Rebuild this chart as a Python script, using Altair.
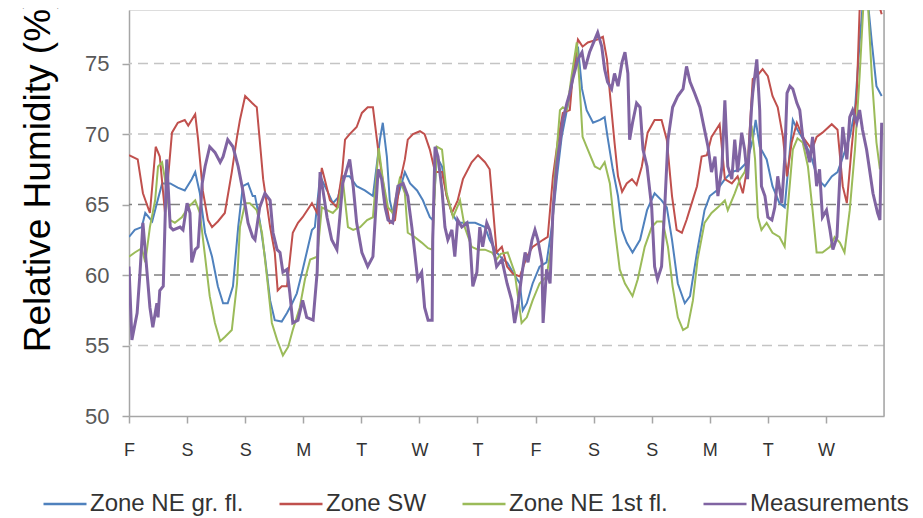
import json
import altair as alt
import pandas as pd

FONT = "Liberation Sans, Arial, sans-serif"

day_labels = ["F", "S", "S", "M", "T", "W", "T", "F", "S", "S", "M", "T", "W"]
series_names = ["Zone NE gr. fl.", "Zone SW", "Zone NE 1st fl.", "Measurements"]
series_colors = ["#4F81BD", "#C0504D", "#9BBB59", "#8064A2"]
y_ticks = [50, 55, 60, 65, 70, 75]
grid_dark = [60, 65]
grid_light = [55, 70, 75]

# (day, relative humidity %)
ne_gr = [(0.00,62.7),(0.10,63.2),(0.22,63.4),(0.28,64.4),(0.40,63.8),(0.48,65.1),(0.57,66.5),(0.71,66.5),(0.84,66.2),(0.96,66.0),(1.08,66.8),(1.14,67.3),(1.22,65.8),(1.31,63.0),(1.43,61.3),(1.53,59.2),(1.62,58.0),(1.70,58.0),(1.79,59.2),(1.88,63.4),(1.96,66.3),(2.05,66.5),(2.13,65.6),(2.17,65.6),(2.25,63.9),(2.34,61.3),(2.43,58.2),(2.51,56.8),(2.63,56.7),(2.72,57.3),(2.81,58.0),(2.89,58.7),(2.98,60.2),(3.06,61.6),(3.15,63.2),(3.20,63.4),(3.29,67.0),(3.41,66.0),(3.51,65.1),(3.60,65.5),(3.68,67.0),(3.80,67.0),(3.92,66.3),(4.06,66.0),(4.20,65.6),(4.32,69.6),(4.37,70.8),(4.44,68.4),(4.49,65.3),(4.54,64.4),(4.63,65.6),(4.75,67.3),(4.84,66.5),(4.96,66.0),(5.06,65.3),(5.18,64.1),(5.23,63.9),(5.30,68.4),(5.39,67.7),(5.47,65.6),(5.56,64.4),(5.66,63.7),(5.78,63.7),(5.96,63.7),(6.13,63.4),(6.21,62.5),(6.33,61.6),(6.44,61.1),(6.51,60.9),(6.61,60.2),(6.73,59.4),(6.78,57.5),(6.85,58.0),(6.95,59.4),(7.07,60.6),(7.19,60.9),(7.28,63.4),(7.37,67.0),(7.45,69.8),(7.54,71.7),(7.62,73.4),(7.73,76.2),(7.80,73.2),(7.88,71.7),(7.99,70.8),(8.11,71.0),(8.19,71.2),(8.24,69.8),(8.33,67.5),(8.42,65.6),(8.49,63.2),(8.57,62.3),(8.67,61.6),(8.80,62.5),(8.92,64.6),(9.05,65.8),(9.17,65.3),(9.26,64.8),(9.35,62.5),(9.45,59.4),(9.57,58.0),(9.66,58.5),(9.78,61.6),(9.91,64.6),(10.00,65.6),(10.12,66.0),(10.26,66.8),(10.38,67.3),(10.52,67.5),(10.64,68.0),(10.74,69.6),(10.79,71.0),(10.86,69.1),(10.98,68.2),(11.08,66.3),(11.20,65.1),(11.29,64.8),(11.38,68.9),(11.43,71.0),(11.51,70.3),(11.64,69.4),(11.76,68.2),(11.86,66.8),(11.98,66.3),(12.10,67.0),(12.20,67.3),(12.32,68.7),(12.41,69.8),(12.50,71.7),(12.58,76.5),(12.65,80.0),(12.72,79.5),(12.79,76.5),(12.87,73.4),(12.96,72.7)]

sw = [(0.00,68.5),(0.15,68.2),(0.24,65.8),(0.36,64.4),(0.46,69.1),(0.53,68.4),(0.62,64.4),(0.74,70.1),(0.84,70.8),(0.96,71.0),(1.02,70.6),(1.14,71.4),(1.19,69.6),(1.27,66.0),(1.36,63.9),(1.43,63.4),(1.53,63.8),(1.65,64.4),(1.77,67.3),(1.86,69.8),(1.91,71.0),(2.00,72.7),(2.12,72.2),(2.20,71.9),(2.25,69.6),(2.31,66.8),(2.43,63.4),(2.51,61.6),(2.56,58.9),(2.63,59.2),(2.72,59.2),(2.77,61.1),(2.82,63.0),(2.91,63.7),(2.99,64.1),(3.15,65.1),(3.24,64.4),(3.32,67.6),(3.37,66.8),(3.46,65.3),(3.58,64.8),(3.67,67.3),(3.72,69.6),(3.80,70.0),(3.92,70.5),(4.01,71.5),(4.11,71.9),(4.20,71.9),(4.29,68.9),(4.41,65.6),(4.49,63.7),(4.58,63.9),(4.66,66.5),(4.75,68.2),(4.80,69.6),(4.89,70.0),(5.01,70.2),(5.09,70.0),(5.18,68.9),(5.27,67.3),(5.39,67.3),(5.47,65.6),(5.56,64.4),(5.66,65.3),(5.75,66.8),(5.90,68.0),(6.01,68.5),(6.13,68.0),(6.21,67.5),(6.27,64.6),(6.33,61.6),(6.42,62.0),(6.51,60.6),(6.61,60.1),(6.73,59.9),(6.85,61.3),(6.95,62.0),(7.13,62.5),(7.21,62.7),(7.30,67.0),(7.38,69.4),(7.47,71.5),(7.59,71.7),(7.64,74.1),(7.73,76.7),(7.81,76.2),(7.90,76.5),(8.06,76.7),(8.16,76.9),(8.23,75.3),(8.28,72.9),(8.36,69.4),(8.42,67.0),(8.49,65.9),(8.57,66.5),(8.66,66.8),(8.74,66.4),(8.83,67.7),(8.93,70.1),(9.05,71.0),(9.17,71.0),(9.26,69.6),(9.35,65.6),(9.43,63.2),(9.52,63.0),(9.60,63.9),(9.69,65.1),(9.78,66.3),(9.86,68.4),(9.95,68.5),(10.03,69.8),(10.17,70.7),(10.26,66.8),(10.38,66.5),(10.48,67.0),(10.57,65.8),(10.65,67.7),(10.74,73.9),(10.81,74.1),(10.91,74.6),(11.00,74.1),(11.08,72.7),(11.17,71.9),(11.26,69.8),(11.33,67.0),(11.41,69.4),(11.50,70.8),(11.60,69.8),(11.76,68.9),(11.84,69.8),(11.94,70.1),(12.10,70.7),(12.20,70.3),(12.29,66.3),(12.36,65.1),(12.44,68.9),(12.53,72.7),(12.58,78.8),(12.65,81.0),(12.79,81.5),(12.89,79.5),(12.96,78.5)]

ne_1st = [(0.00,61.3),(0.10,61.6),(0.22,61.9),(0.28,60.9),(0.36,63.4),(0.45,65.3),(0.50,67.7),(0.57,68.0),(0.62,66.8),(0.71,63.9),(0.79,63.7),(0.91,64.1),(1.02,64.8),(1.14,65.3),(1.22,64.4),(1.31,61.3),(1.39,58.5),(1.48,56.6),(1.57,55.3),(1.65,55.6),(1.77,56.1),(1.86,59.4),(1.91,63.4),(2.00,65.1),(2.08,65.1),(2.20,64.6),(2.29,63.0),(2.38,59.7),(2.46,56.6),(2.55,55.4),(2.65,54.3),(2.74,54.9),(2.82,56.1),(2.94,57.7),(3.03,59.7),(3.12,61.1),(3.24,61.3),(3.32,64.8),(3.41,64.6),(3.51,64.4),(3.60,64.8),(3.68,66.8),(3.77,63.4),(3.86,63.2),(3.98,63.4),(4.10,63.9),(4.20,64.1),(4.30,69.0),(4.37,66.8),(4.46,64.8),(4.54,64.4),(4.66,66.8),(4.75,65.8),(4.80,63.0),(4.92,62.7),(5.04,62.3),(5.15,61.9),(5.22,61.8),(5.30,69.1),(5.39,68.9),(5.47,65.8),(5.58,64.1),(5.70,65.3),(5.78,63.4),(5.90,62.0),(6.01,61.8),(6.13,61.8),(6.25,61.6),(6.33,61.1),(6.40,61.5),(6.52,61.6),(6.64,60.2),(6.73,57.5),(6.76,56.6),(6.85,57.0),(6.95,58.2),(7.07,59.4),(7.19,59.9),(7.28,62.3),(7.33,67.0),(7.42,71.7),(7.47,71.9),(7.54,71.7),(7.62,74.1),(7.71,76.5),(7.76,73.4),(7.81,69.8),(7.90,68.9),(8.02,67.7),(8.11,67.5),(8.19,68.0),(8.28,66.5),(8.36,63.4),(8.45,60.4),(8.54,59.4),(8.67,58.5),(8.76,59.7),(8.88,62.0),(9.00,63.4),(9.09,63.8),(9.19,63.8),(9.28,62.0),(9.36,59.2),(9.45,57.0),(9.54,56.1),(9.62,56.3),(9.71,58.2),(9.79,61.1),(9.91,63.7),(10.03,64.4),(10.14,64.8),(10.26,65.3),(10.31,64.6),(10.43,65.8),(10.52,66.8),(10.60,67.3),(10.66,68.4),(10.72,70.6),(10.78,68.2),(10.83,64.1),(10.89,63.2),(10.98,63.7),(11.08,63.0),(11.20,62.7),(11.29,62.0),(11.34,64.6),(11.43,68.9),(11.51,69.7),(11.60,69.4),(11.69,67.7),(11.77,64.6),(11.84,61.6),(11.94,61.6),(12.07,62.0),(12.15,62.7),(12.24,62.3),(12.32,61.6),(12.41,64.6),(12.50,68.9),(12.58,74.1),(12.65,79.5),(12.72,79.5),(12.79,74.1),(12.87,69.4),(12.93,67.5)]

meas = [(0.00,60.6),(0.05,55.4),(0.14,57.3),(0.19,60.2),(0.24,63.7),(0.31,60.2),(0.36,57.7),(0.41,56.3),(0.48,58.0),(0.50,57.0),(0.53,58.9),(0.59,59.2),(0.65,68.2),(0.71,63.4),(0.76,63.2),(0.88,63.4),(0.93,63.2),(1.00,65.1),(1.05,64.4),(1.08,60.9),(1.14,61.8),(1.19,62.0),(1.26,66.5),(1.31,67.7),(1.39,69.1),(1.48,68.7),(1.57,68.0),(1.62,68.4),(1.70,69.6),(1.79,69.1),(1.88,67.7),(1.96,66.0),(2.05,63.7),(2.13,62.7),(2.17,62.5),(2.25,64.8),(2.34,65.8),(2.43,65.3),(2.48,63.0),(2.55,61.8),(2.60,61.6),(2.65,60.2),(2.72,60.4),(2.77,58.7),(2.82,56.6),(2.91,56.8),(2.99,58.2),(3.06,57.0),(3.17,56.8),(3.24,60.2),(3.29,67.3),(3.34,66.0),(3.41,64.1),(3.49,62.5),(3.58,61.8),(3.63,64.1),(3.68,66.5),(3.75,67.5),(3.80,68.2),(3.86,66.3),(3.92,63.7),(4.01,61.6),(4.11,60.6),(4.20,61.3),(4.29,67.5),(4.35,66.8),(4.41,64.8),(4.46,63.9),(4.54,63.7),(4.63,66.3),(4.72,66.5),(4.80,65.6),(4.87,63.4),(4.92,61.6),(4.97,59.7),(5.04,60.2),(5.09,57.7),(5.15,56.8),(5.22,56.8),(5.23,62.5),(5.27,69.1),(5.32,68.4),(5.39,66.0),(5.44,63.4),(5.49,62.5),(5.56,63.2),(5.61,61.3),(5.66,63.9),(5.73,63.4),(5.82,63.7),(5.87,62.5),(5.92,59.2),(5.99,60.2),(6.04,63.4),(6.09,62.0),(6.16,63.7),(6.21,63.2),(6.27,62.0),(6.33,60.6),(6.42,61.1),(6.51,59.4),(6.59,58.2),(6.64,56.6),(6.70,58.0),(6.76,59.9),(6.82,61.6),(6.87,60.9),(6.94,62.5),(6.99,63.2),(7.04,62.5),(7.11,60.9),(7.13,56.6),(7.19,60.4),(7.25,59.4),(7.30,64.6),(7.37,68.0),(7.42,69.4),(7.47,71.0),(7.54,72.2),(7.59,72.9),(7.64,73.9),(7.73,75.3),(7.80,75.8),(7.85,74.6),(7.93,75.8),(8.02,76.7),(8.07,77.2),(8.14,76.2),(8.19,74.6),(8.24,73.7),(8.31,73.2),(8.36,74.3),(8.42,73.4),(8.49,75.1),(8.54,75.8),(8.59,74.3),(8.62,69.6),(8.67,70.8),(8.74,72.2),(8.80,71.9),(8.85,68.9),(8.92,67.7),(9.00,64.8),(9.05,60.6),(9.10,59.7),(9.17,60.6),(9.23,65.3),(9.28,69.6),(9.36,71.9),(9.45,72.7),(9.54,73.2),(9.60,74.8),(9.66,73.7),(9.74,72.9),(9.83,71.9),(9.91,70.3),(9.97,69.1),(10.03,67.3),(10.09,68.4),(10.14,65.6),(10.21,67.7),(10.26,72.4),(10.31,67.7),(10.38,66.8),(10.43,69.6),(10.48,67.3),(10.55,70.1),(10.60,68.9),(10.65,66.8),(10.72,71.9),(10.74,72.9),(10.81,75.3),(10.86,71.7),(10.89,66.3),(10.95,65.6),(11.00,64.1),(11.07,63.9),(11.12,64.8),(11.17,67.0),(11.24,65.1),(11.29,68.2),(11.33,72.9),(11.38,73.4),(11.43,73.2),(11.50,72.2),(11.55,71.7),(11.60,69.8),(11.67,68.9),(11.72,68.0),(11.77,69.8),(11.84,66.3),(11.89,67.5),(11.94,64.1),(12.01,64.6),(12.07,63.2),(12.12,61.8),(12.19,62.7),(12.24,67.0),(12.29,70.5),(12.36,68.2),(12.41,71.2),(12.46,71.7),(12.53,70.8),(12.58,71.7),(12.63,70.3),(12.70,68.9),(12.75,67.5),(12.81,65.8),(12.89,64.4),(12.93,63.9),(12.96,70.8)]

rows = []
for name, pts in zip(series_names, [ne_gr, sw, ne_1st, meas]):
    for t, v in pts:
        rows.append({"t": t, "rh": v, "series": name})
df = pd.DataFrame(rows)

AX_GRAY = "#a6a6a6"
xscale = alt.Scale(domain=[0, 13], nice=False, zero=False)
yscale = alt.Scale(domain=[50, 78.8], nice=False, zero=False)

x_enc = alt.X(
    "t:Q", scale=xscale,
    axis=alt.Axis(
        values=list(range(len(day_labels))),
        labelExpr=json.dumps(day_labels) + "[datum.value]",
        title=None, grid=False,
        domainColor=AX_GRAY, domainWidth=1.5,
        tickColor=AX_GRAY, tickWidth=1.5, tickSize=7,
        labelFont=FONT, labelFontSize=18, labelColor="#333333",
        labelPadding=18, labelFlush=False, labelOverlap=False,
    ),
)
y_enc = alt.Y(
    "rh:Q", scale=yscale,
    axis=alt.Axis(
        values=y_ticks, grid=False,
        title="Relative Humidity (%)",
        titleFont=FONT, titleFontSize=37, titleFontWeight="normal",
        titleColor="#000000", titleAngle=270, titleX=-80, titleY=164,
        titleAlign="center", titleBaseline="alphabetic",
        domainColor=AX_GRAY, domainWidth=1.5,
        tickColor=AX_GRAY, tickWidth=1.5, tickSize=7,
        labelFont=FONT, labelFontSize=22, labelColor="#595959",
        labelPadding=13, labelFlush=False,
    ),
)

color_enc = alt.Color(
    "series:N",
    scale=alt.Scale(domain=series_names, range=series_colors),
    legend=alt.Legend(
        title=None, orient="none", legendX=-87, legendY=471,
        direction="horizontal", symbolType="stroke", symbolSize=1849,
        symbolStrokeWidth=2.5, labelFont=FONT, labelFontSize=24,
        labelColor="#333333", labelOffset=2, columnPadding=30, labelLimit=400,
    ),
)

grid_l = alt.Chart(pd.DataFrame({"rh": grid_light})).mark_rule(
    color="#c4c4c4", strokeWidth=1.5, strokeDash=[10, 6]
).encode(y=y_enc)
grid_d = alt.Chart(pd.DataFrame({"rh": grid_dark})).mark_rule(
    color="#808080", strokeWidth=1.5, strokeDash=[10, 6]
).encode(y=y_enc)

zones = alt.Chart(df).transform_filter(
    alt.datum.series != "Measurements"
).mark_line(clip=True, strokeWidth=2).encode(x=x_enc, y=y_enc, color=color_enc)

measured = alt.Chart(df).transform_filter(
    alt.datum.series == "Measurements"
).mark_line(clip=True, strokeWidth=3).encode(x=x_enc, y=y_enc, color=color_enc)

right_edge = alt.Chart(pd.DataFrame({"t": [13]})).mark_rule(
    color=AX_GRAY, strokeWidth=1.5
).encode(x=x_enc)

chart = alt.layer(grid_l, grid_d, zones, measured, right_edge).properties(
    width=755, height=406,
    autosize=alt.AutoSizeParams(type="none"),
    padding={"left": 121, "top": 2, "right": 30, "bottom": 100},
).configure_view(stroke=None).configure(background="white")

chart.save("out.html", embed_options={"renderer": "svg", "actions": False})
